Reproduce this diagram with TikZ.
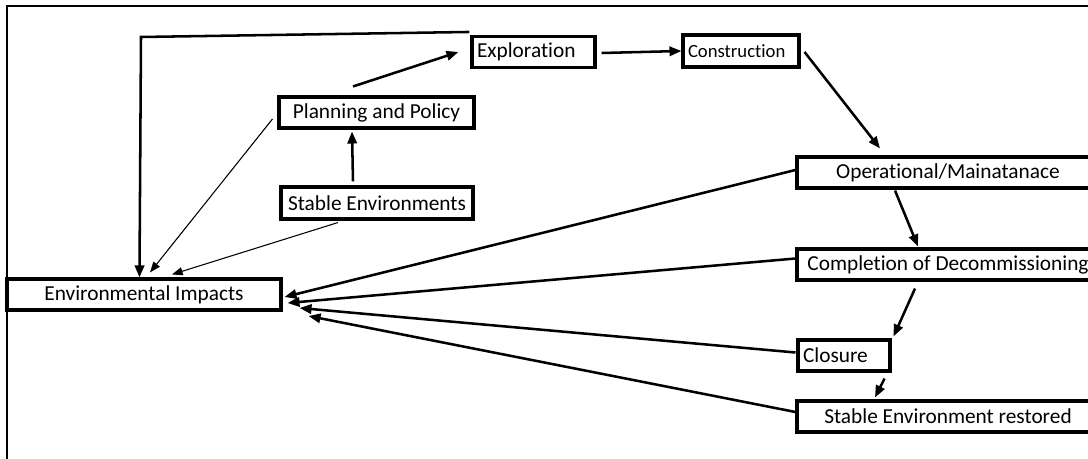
\documentclass[tikz,border=0pt]{standalone}
\usepackage{fontspec}
\setmainfont{Carlito}[Ligatures=NoCommon]
\usetikzlibrary{arrows.meta}
\newcommand{\pxu}{0.75pt}
\begin{document}
\begin{tikzpicture}[x=0.75pt,y=-0.75pt,
  box/.style={draw,line width=2.3pt,rectangle,inner sep=0pt,
    minimum height=31*\pxu,font=\fontsize{16}{19}\selectfont},
  lbox/.style={box,inner xsep=5*\pxu,align=left},
  flow/.style={line width=1.9pt,-{Triangle[length=9pt,width=7pt]}},
  thin/.style={line width=0.8pt,-{Triangle[length=8pt,width=6pt]}}]
\useasboundingbox (0,0) rectangle (1088,459);
\clip (0,0) rectangle (1088,459);
% outer frame
\draw[line width=1.5pt] (7,470) -- (7,6) -- (1100,6);

% boxes
\node[lbox,text width=113*\pxu] (expl) at (533.5,52) {Exploration};
\node[lbox,text width=106*\pxu,minimum height=32*\pxu,font=\fontsize{14}{17}\selectfont] (cons) at (741,51) {Construction};
\node[box,minimum width=302*\pxu] (oper) at (948,172.5) {Operational/Mainatanace};
\node[box,minimum width=302*\pxu] (comp) at (948,264.5) {Completion of Decommissioning};
\node[lbox,text width=82*\pxu] (clos) at (844,355.5) {Closure};
\node[box,minimum width=302*\pxu] (rest) at (948,416.5) {Stable Environment restored};
\node[box,minimum width=274*\pxu] (env) at (144,294.5) {Environmental Impacts};
\node[box,minimum width=195*\pxu] (plan) at (376.5,112.5) {Planning and Policy};
\node[box,minimum width=192*\pxu,minimum height=32*\pxu] (stab) at (377,203) {Stable Environments};

% feedback loop over the top
\coordinate (tl) at (141,37);
\draw[flow] ([shift={(-1,-3)}]expl.north west) -- (tl) -- ([shift={(134,0)}]env.north west);

% main sequence
\draw[flow] ([shift={(5,1)}]expl.east) -- (cons.west);
\draw[flow] ([shift={(4,1)}]cons.east) -- ([shift={(-68,-7)}]oper.north);
\draw[flow] ([shift={(-53,1)}]oper.south) -- ([shift={(-30,-1)}]comp.north);
\draw[flow] ([shift={(-33,7)}]comp.south) -- ([shift={(2,-2)}]clos.north east);
\draw[flow] ([shift={(-7,6)}]clos.south east) -- ([shift={(-73,-2)}]rest.north);
\draw[flow] ([shift={(-24,-4)}]stab.north) -- ([shift={(-24.5,2)}]plan.south);
\draw[flow] ([shift={(-23.5,-9)}]plan.north) -- ([shift={(-12,0)}]expl.west);

% thin links into impacts
\draw[thin] ([shift={(-5,6.5)}]plan.west) -- ([shift={(6,-5)}]env.north);
\draw[thin] ([shift={(-39,2)}]stab.south) -- ([shift={(28,-3)}]env.north);

% impacts from the later stages
\draw[flow] ([shift={(0,-2.5)}]oper.west) -- ([shift={(2,2.5)}]env.east);
\draw[flow] ([shift={(0,-6)}]comp.west) -- ([shift={(5,8.5)}]env.east);
\draw[flow] ([shift={(-1,-3)}]clos.west) -- ([shift={(17,13.5)}]env.east);
\draw[flow] ([shift={(0,-4.5)}]rest.west) -- ([shift={(26,21.5)}]env.east);
\end{tikzpicture}
\end{document}
